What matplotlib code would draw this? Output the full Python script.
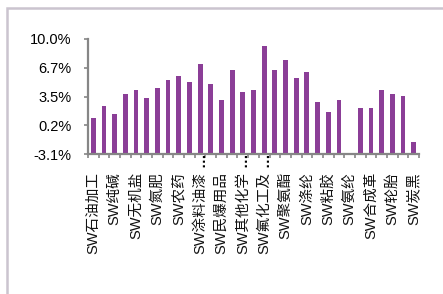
import matplotlib
matplotlib.use("Agg")
import matplotlib.pyplot as plt
import matplotlib.patches as mpatches
import numpy as np

categories = ["SW石油加工", "SW石油贸易", "SW纯碱", "SW氯碱", "SW无机盐", "SW其他化学原料",
              "SW氮肥", "SW磷肥", "SW农药", "SW日用化学产品", "SW涂料油漆…", "SW钾肥",
              "SW民爆用品", "SW纺织化学用品", "SW其他化学…", "SW复合肥", "SW氟化工及…",
              "SW磷化工及磷酸盐", "SW聚氨酯", "SW玻纤", "SW涤纶", "SW维纶", "SW粘胶",
              "SW其他纤维", "SW氨纶", "SW其他塑料制品", "SW合成革", "SW改性塑料", "SW轮胎",
              "SW其他橡胶制品", "SW炭黑"]
values = [1.04, 2.4, 1.5, 3.77, 4.23, 3.31, 4.45, 5.36, 5.82, 5.14, 7.19, 4.91,
          3.09, 6.5, 4.0, 4.23, 9.24, 6.5, 7.64, 5.59, 6.28, 2.86, 1.72, 3.09,
          -3.1, 2.18, 2.18, 4.23, 3.77, 3.54, -1.7]
yticks = [-3.1, 0.175, 3.45, 6.725, 10.0]
ytick_labels = ["-3.1%", "0.2%", "3.5%", "6.7%", "10.0%"]

W, H = 443, 294
fig = plt.figure(figsize=(W / 100, H / 100), dpi=100)
fig.patch.set_facecolor("white")

# outer chart border (top and left visible)
top = 1 - 7.5 / H
fig.patches.append(mpatches.Rectangle((7 / W, -0.5), 2.0, top + 0.5,
                                      transform=fig.transFigure, fill=False,
                                      edgecolor="#CBC4CF", linewidth=1.8))

ax = fig.add_axes([88 / W, 1 - 154 / H, (419 - 88) / W, (154 - 39) / H])
ymin, ymax = -3.1, 10.0
x = np.arange(len(categories))
vals = np.array(values)
ax.bar(x, vals - ymin, bottom=ymin, width=0.45, color="#8B3E97", zorder=2)

ax.set_xlim(-0.5, len(categories) - 0.5)
ax.set_ylim(ymin, ymax)

for s in ["top", "right"]:
    ax.spines[s].set_visible(False)
for s in ["left", "bottom"]:
    ax.spines[s].set_color("#868686")
    ax.spines[s].set_linewidth(1.6)

ax.set_yticks(yticks)
ax.set_yticklabels(ytick_labels, fontsize=10.5, family=["Liberation Sans"])
ax.tick_params(axis="y", length=3, width=1.2, color="#868686", pad=9)

fam = ["Liberation Sans", "Noto Sans CJK SC"]
label_pos = x[::2]
shown = [categories[i] for i in label_pos]
ax.set_xticks(label_pos)
ax.set_xticklabels([s.rstrip("…") for s in shown], rotation=90,
                   fontsize=10.5, family=fam, va="top", ha="center",
                   color="#111111")
ax.tick_params(axis="x", which="major", length=0, pad=13)
ax.set_xticks(np.arange(-0.5, len(categories), 1.0), minor=True)
ax.tick_params(axis="x", which="minor", length=3, width=1.2, color="#868686")

# truncation marks drawn at the axis, as in the reference
for pos, s in zip(label_pos, shown):
    if s.endswith("…"):
        ax.annotate("…", xy=(pos, 0), xycoords=("data", "axes fraction"),
                    xytext=(0, 1), textcoords="offset points", rotation=90,
                    ha="center", va="top", fontsize=10.5, family=fam,
                    fontweight="bold", annotation_clip=False)

fig.savefig("out.png", dpi=100, facecolor="white")
